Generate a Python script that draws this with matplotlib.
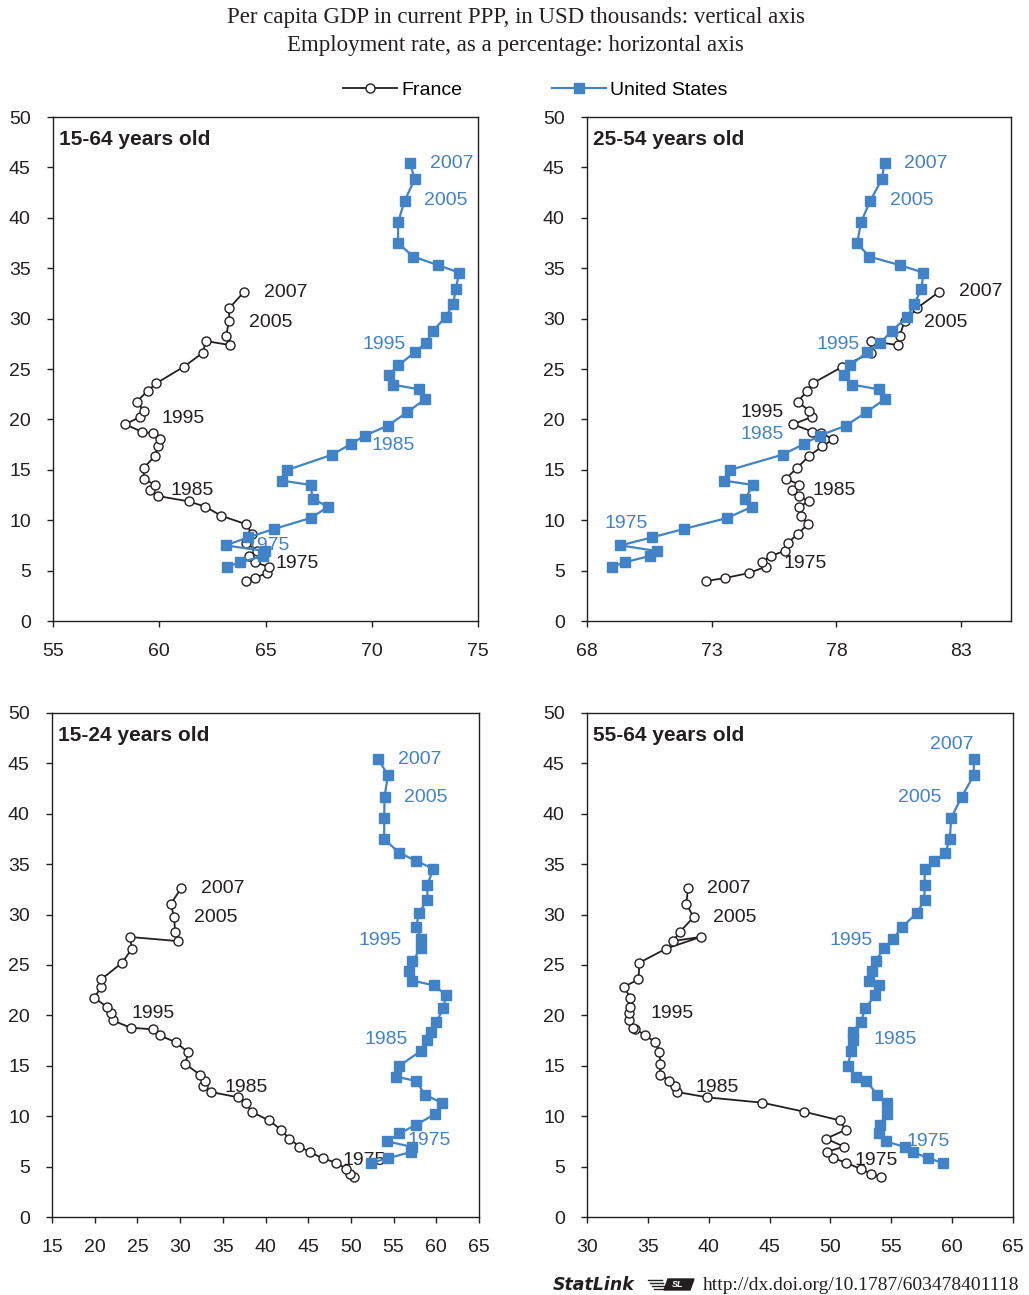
import matplotlib
matplotlib.use('Agg')
import matplotlib.pyplot as plt
from matplotlib.lines import Line2D
from matplotlib.patches import Polygon

plt.rcParams['font.family'] = ['Liberation Sans', 'DejaVu Sans']

# Years covered: 1971-2007
years = list(range(1971, 2008))

# Per capita GDP, current PPP, USD thousands (same in every panel)
fr_gdp = [3.97, 4.27, 4.76, 5.39, 5.82, 6.45, 6.98, 7.77, 8.66, 9.59,
          10.45, 11.34, 11.87, 12.4, 13.0, 13.52, 14.12, 15.18, 16.34, 17.33,
          18.03, 18.62, 18.78, 19.51, 20.27, 20.83, 21.76, 22.82, 23.58, 25.23,
          26.62, 27.78, 27.37, 28.3, 29.75, 31.05, 32.67]
us_gdp = [5.39, 5.82, 6.45, 6.94, 7.5, 8.3, 9.13, 10.22, 11.31, 12.14,
          13.5, 13.92, 14.98, 16.5, 17.56, 18.4, 19.38, 20.7, 21.99, 22.98,
          23.45, 24.45, 25.36, 26.65, 27.55, 28.77, 30.19, 31.48, 32.97, 34.56,
          35.29, 36.15, 37.47, 39.58, 41.7, 43.82, 45.47]

# Employment rates (%) by age group
fr_emp_15_64 = [64.08, 64.49, 65.07, 65.15, 64.49, 64.22, 64.6, 64.07, 64.35, 64.1,
                62.9, 62.17, 61.38, 59.93, 59.58, 59.78, 59.27, 59.27, 59.78, 59.96,
                60.04, 59.71, 59.17, 58.4, 59.11, 59.28, 58.94, 59.45, 59.86, 61.16,
                62.06, 62.18, 63.34, 63.15, 63.28, 63.3, 64.0]
us_emp_15_64 = [63.2, 63.81, 64.9, 64.98, 63.12, 64.18, 65.41, 67.12, 67.94, 67.22,
                67.12, 65.79, 66.02, 68.14, 69.02, 69.68, 70.76, 71.66, 72.5, 72.22,
                71.0, 70.83, 71.25, 72.02, 72.53, 72.88, 73.49, 73.84, 73.95, 74.12,
                73.13, 71.96, 71.24, 71.24, 71.55, 72.02, 71.8]

fr_emp_25_54 = [72.79, 73.55, 74.5, 75.17, 75.02, 75.37, 75.95, 76.06, 76.46, 76.85,
                76.57, 76.52, 76.89, 76.48, 76.2, 76.52, 75.97, 76.42, 76.89, 77.43,
                77.88, 77.4, 77.04, 76.26, 77.04, 76.92, 76.45, 76.82, 77.05, 78.24,
                79.39, 79.38, 80.46, 80.53, 80.74, 81.24, 82.13]
us_emp_25_54 = [69.02, 69.52, 70.51, 70.81, 69.34, 70.61, 71.88, 73.62, 74.6, 74.35,
                74.66, 73.5, 73.72, 75.84, 76.7, 77.33, 78.38, 79.19, 79.93, 79.7,
                78.64, 78.31, 78.56, 79.23, 79.75, 80.22, 80.85, 81.13, 81.41, 81.49,
                80.56, 79.32, 78.83, 78.99, 79.36, 79.82, 79.93]

fr_emp_15_24 = [50.4, 49.85, 49.47, 48.26, 46.7, 45.18, 43.98, 42.77, 41.84, 40.36,
                38.37, 37.7, 36.82, 33.62, 32.68, 32.92, 32.3, 30.63, 30.93, 29.5,
                27.59, 26.77, 24.2, 22.1, 21.9, 21.44, 19.95, 20.77, 20.77, 23.22,
                24.36, 24.12, 29.76, 29.41, 29.3, 28.91, 30.16]
us_emp_15_24 = [52.39, 54.37, 56.98, 57.21, 54.26, 55.69, 57.61, 59.86, 60.64, 58.66,
                57.64, 55.26, 55.62, 58.26, 58.96, 59.43, 60.02, 60.83, 61.15, 59.78,
                57.14, 56.75, 57.21, 58.15, 58.26, 57.64, 57.99, 58.96, 58.96, 59.66,
                57.68, 55.66, 53.9, 53.9, 53.94, 54.34, 53.17]

fr_emp_55_64 = [54.16, 53.37, 52.49, 51.29, 50.25, 49.68, 51.1, 49.65, 51.26, 50.75,
                47.82, 44.41, 39.88, 37.42, 37.23, 36.74, 36.03, 36.03, 35.95, 35.62,
                34.8, 33.96, 33.82, 33.41, 33.49, 33.55, 33.57, 33.03, 34.23, 34.31,
                36.49, 39.33, 37.04, 37.64, 38.76, 38.16, 38.3]
us_emp_55_64 = [59.21, 58.03, 56.81, 56.15, 54.54, 54.02, 54.1, 54.62, 54.62, 53.83,
                52.96, 52.08, 51.43, 51.7, 51.84, 51.84, 52.52, 52.85, 53.69, 53.99,
                53.2, 53.39, 53.72, 54.37, 55.11, 55.9, 57.13, 57.73, 57.73, 57.76,
                58.55, 59.45, 59.81, 59.92, 60.79, 61.78, 61.78]

age_groups = ['15-64 years old', '25-54 years old', '15-24 years old', '55-64 years old']
x_limits = [(55, 75), (68, 85), (15, 65), (30, 65)]
x_ticks = [range(55, 76, 5), range(68, 84, 5), range(15, 66, 5), range(30, 66, 5)]

BLACK = '#231f20'
BLUE = '#4282c6'

# year label placement per panel: (text, x, y, colour)
labels = [
    [('2007', 64.93, 32.6, BLACK), ('2005', 64.21, 29.63, BLACK), ('1995', 60.11, 20.1, BLACK),
     ('1985', 60.55, 12.9, BLACK), ('1975', 65.49, 5.72, BLACK),
     ('2007', 72.74, 45.4, BLUE), ('2005', 72.47, 41.67, BLUE), ('1995', 69.57, 27.45, BLUE),
     ('1985', 70.0, 17.46, BLUE), ('1975', 64.11, 7.47, BLUE)],
    [('2007', 82.92, 32.67, BLACK), ('2005', 81.53, 29.63, BLACK), ('1995', 74.14, 20.7, BLACK),
     ('1985', 77.04, 12.9, BLACK), ('1975', 75.87, 5.72, BLACK),
     ('2007', 80.69, 45.4, BLUE), ('2005', 80.13, 41.67, BLUE), ('1995', 77.21, 27.45, BLUE),
     ('1985', 74.16, 18.52, BLUE), ('1975', 68.69, 9.69, BLUE)],
    [('2007', 32.42, 32.6, BLACK), ('2005', 31.63, 29.73, BLACK), ('1995', 24.36, 20.2, BLACK),
     ('1985', 35.18, 12.87, BLACK), ('1975', 49.0, 5.65, BLACK),
     ('2007', 55.46, 45.4, BLUE), ('2005', 56.17, 41.64, BLUE), ('1995', 50.87, 27.48, BLUE),
     ('1985', 51.57, 17.56, BLUE), ('1975', 56.67, 7.54, BLUE)],
    [('2007', 39.88, 32.6, BLACK), ('2005', 40.37, 29.73, BLACK), ('1995', 35.21, 20.2, BLACK),
     ('1985', 38.9, 12.87, BLACK), ('1975', 52.0, 5.65, BLACK),
     ('2007', 58.2, 46.9, BLUE), ('2005', 55.52, 41.64, BLUE), ('1995', 49.93, 27.48, BLUE),
     ('1985', 53.53, 17.56, BLUE), ('1975', 56.29, 7.47, BLUE)],
]

fr_series = [fr_emp_15_64, fr_emp_25_54, fr_emp_15_24, fr_emp_55_64]
us_series = [us_emp_15_64, us_emp_25_54, us_emp_15_24, us_emp_55_64]

fig = plt.figure(figsize=(10.29, 12.95), dpi=100)

# axes boxes in pixels (left, top, right, bottom)
W, H = 1029, 1295
boxes = [(53, 117, 478, 621), (587, 117, 1011, 621),
         (52, 713, 479, 1217), (587, 713, 1013, 1217)]

fr_style = dict(color=BLACK, lw=1.3, marker='o', ms=6.5, mfc='white', mec=BLACK, mew=1.0)
us_style = dict(color=BLUE, lw=1.6, marker='s', ms=7, mfc=BLUE, mec=BLUE)

for i, (l, t, r, b) in enumerate(boxes):
    ax = fig.add_axes([l / W, 1 - b / H, (r - l) / W, (b - t) / H])
    ax.plot(fr_series[i], fr_gdp, zorder=3, **fr_style)
    ax.plot(us_series[i], us_gdp, zorder=4, **us_style)
    ax.set_xlim(*x_limits[i])
    ax.set_ylim(0, 50)
    ax.set_xticks(list(x_ticks[i]))
    ax.set_yticks(range(0, 51, 5))
    ax.tick_params(direction='out', length=4, width=1, labelsize=14,
                   colors=BLACK, pad=12)
    for sp in ax.spines.values():
        sp.set_color(BLACK)
        sp.set_linewidth(1.0)
    ax.text(0.015, 0.955, age_groups[i], transform=ax.transAxes, fontsize=15,
            fontweight='bold', color=BLACK, va='center', ha='left')
    for txt, lx, ly, c in labels[i]:
        ax.text(lx, ly, txt, color=c, fontsize=14, va='center', ha='left', zorder=3.5)

# headline
fig.text(0.501, 1 - 17 / H, 'Per capita GDP in current PPP, in USD thousands: vertical axis',
         ha='center', va='center', fontsize=16.5, family='Liberation Serif', color=BLACK)
fig.text(0.501, 1 - 46 / H, 'Employment rate, as a percentage: horizontal axis',
         ha='center', va='center', fontsize=16.5, family='Liberation Serif', color=BLACK)

handles = [Line2D([], [], label='France', **fr_style),
           Line2D([], [], label='United States', **us_style)]
fig.legend(handles=handles, loc='center', bbox_to_anchor=(0.52, 1 - 90 / H), ncol=2,
           frameon=False, fontsize=14, handlelength=2.8, handletextpad=0.2,
           columnspacing=4.6)

# source line with a small logo
fig.text(553 / W, 1 - 1285 / H, 'StatLink', fontsize=12.5, fontweight='bold',
         style='italic', family='DejaVu Sans', va='center', ha='left', color=BLACK)
for k in range(4):
    yy = 1 - (1280 + 3 * k) / H
    fig.add_artist(Line2D([(648 + 2 * k) / W, (662 + k) / W], [yy, yy],
                          color=BLACK, lw=1.0, transform=fig.transFigure))
fig.add_artist(Polygon([(664 / W, 1 - 1290 / H), (690 / W, 1 - 1290 / H),
                        (694 / W, 1 - 1279 / H), (668 / W, 1 - 1279 / H)],
                       closed=True, color=BLACK, transform=fig.transFigure))
fig.text(678 / W, 1 - 1284.5 / H, 'SL', fontsize=6.5, fontweight='bold', style='italic',
         color='white', ha='center', va='center')
fig.text(703 / W, 1 - 1285 / H, 'http://dx.doi.org/10.1787/603478401118',
         fontsize=14, family='Liberation Serif', va='center', ha='left', color=BLACK)

fig.savefig('out.png', dpi=100)
